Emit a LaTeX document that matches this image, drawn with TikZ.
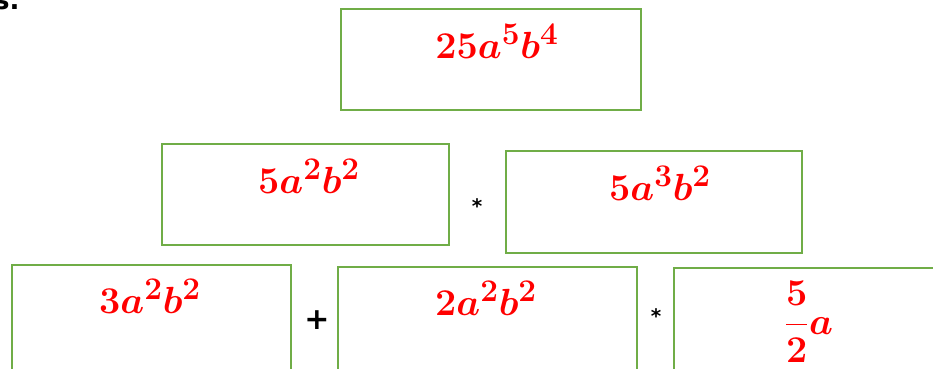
\documentclass[tikz,border=0pt]{standalone}
\usepackage{amsmath}
\usepackage{graphicx}
\usepackage{fontspec}
\newfontfamily\opfont{DejaVu Sans}
\definecolor{boxgreen}{RGB}{112,173,71}
\definecolor{mathred}{RGB}{255,0,0}
\newcommand{\bigterm}[1]{\scalebox{1.52}{#1}}
\tikzset{
  termbox/.style={draw=boxgreen, line width=2pt, rectangle},
  term/.style={text=mathred, inner sep=0pt, font=\fontsize{24.88}{30}\selectfont\boldmath},
  oper/.style={text=black, inner sep=0pt, font=\fontsize{20}{22}\selectfont\opfont\bfseries}
}
\begin{document}
\begin{tikzpicture}[x=1pt,y=-1pt]
\useasboundingbox (0,0) rectangle (933,368);
\fill[white] (0,0) rectangle (933,368);
% boxes
\node[termbox, minimum width=300pt, minimum height=101pt, anchor=north west] (top) at (340,8) {};
\node[termbox, minimum width=287pt, minimum height=101pt, anchor=north west] (midl) at (161,143) {};
\node[termbox, minimum width=296pt, minimum height=102pt, anchor=north west] (midr) at (505,150) {};
\node[termbox, minimum width=279pt, minimum height=140pt, anchor=north west] (botl) at (11,264) {};
\node[termbox, minimum width=299pt, minimum height=140pt, anchor=north west] (botm) at (337,266) {};
\node[termbox, minimum width=290pt, minimum height=140pt, anchor=north west] (botr) at (673,267) {};
% terms
\node[term, anchor=base] (ttop) at (497,58) {\bigterm{$25a^{5}b^{4}$}};
\node[term, anchor=base] (tmidl) at (309,193) {\bigterm{$5a^{2}b^{2}$}};
\node[term, anchor=base] (tmidr) at (660,200) {\bigterm{$5a^{3}b^{2}$}};
\node[term, anchor=base] (tbotl) at (150,313) {\bigterm{$3a^{2}b^{2}$}};
\node[term, anchor=base] (tbotm) at (486,315) {\bigterm{$2a^{2}b^{2}$}};
\node[term, anchor=base west] (tbotr) at (784,334) {\bigterm{$\dfrac{5}{2}a$}};
% operators
\node[oper] (op1) at (477,206) {*};
\node[oper, font=\fontsize{30}{32}\selectfont\opfont\bfseries] (op2) at (317,320) {+};
\node[oper] (op3) at (656,316) {*};
% cut-off label
\node[text=black, inner sep=0pt, anchor=base west, font=\fontsize{26}{28}\selectfont\opfont\bfseries] (lbl) at (-6,9) {s.};
\end{tikzpicture}
\end{document}
